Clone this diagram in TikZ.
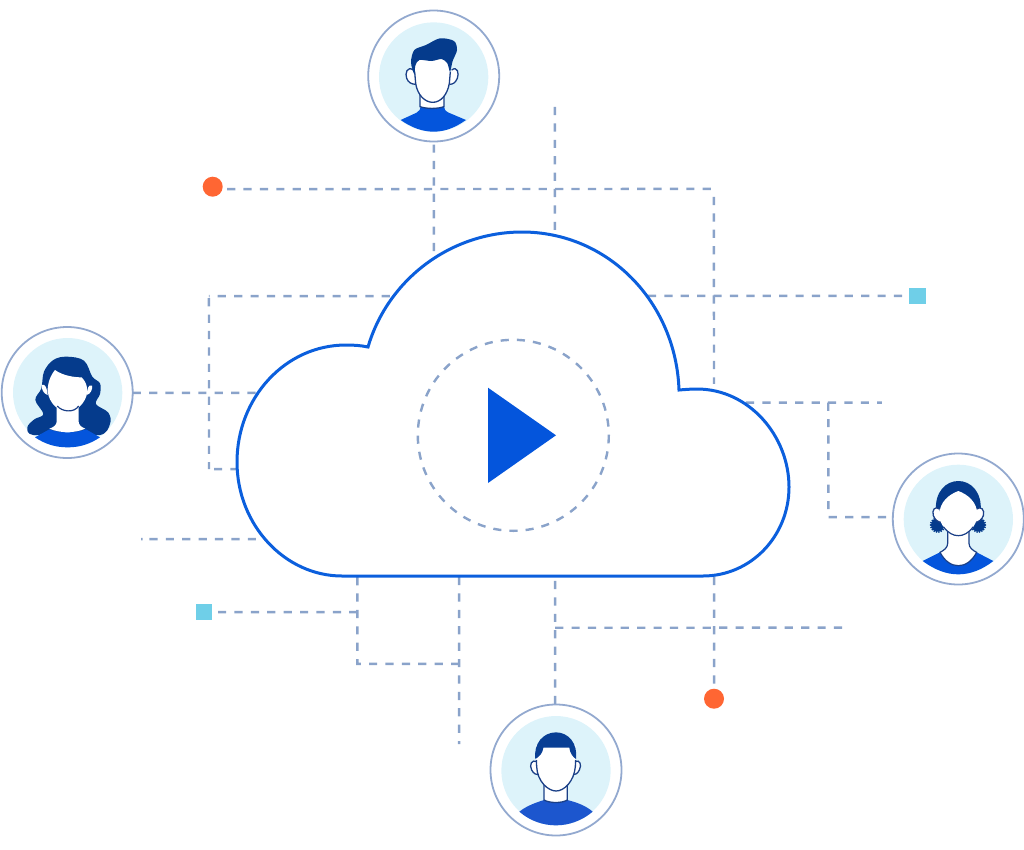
\documentclass[tikz,border=0pt]{standalone}
\definecolor{dashc}{HTML}{8AA3CA}
\definecolor{ringc}{HTML}{93A9CF}
\definecolor{cloudc}{HTML}{0B5FDD}
\definecolor{playc}{HTML}{0455DC}
\definecolor{lightc}{HTML}{DDF3FA}
\definecolor{hairc}{HTML}{053B8C}
\definecolor{linec}{HTML}{1A3F87}
\definecolor{bodyc}{HTML}{0455DC}
\definecolor{bodyd}{HTML}{1C56CE}
\definecolor{orangec}{HTML}{FF6633}
\definecolor{cyanc}{HTML}{6FCFE8}
\tikzset{
  dl/.style={draw=dashc,line width=2.4pt,dash pattern=on 8.2pt off 8.2pt},
  avatar/.style={circle,draw=ringc,line width=1.8pt,minimum size=131pt,inner sep=0pt,outer sep=0pt},
  orangedot/.style={circle,fill=orangec,minimum size=20pt,inner sep=0pt,outer sep=0pt},
  cyansq/.style={rectangle,fill=cyanc,minimum size=16.4pt,inner sep=0pt,outer sep=0pt},
  skin/.style={fill=white,draw=linec,line width=1.3pt},
  hair/.style={fill=hairc,draw=none},
  zoomed/.style={x=0.33333pt,y=-0.33333pt}
}
\begin{document}
\begin{tikzpicture}[x=1pt,y=-1pt]
\useasboundingbox (0,0) rectangle (1024,849);
% avatars and markers
\node[avatar] (a1) at (433.7,76) {};
\node[avatar] (a2) at (67.2,392.5) {};
\node[avatar] (a3) at (958.3,519) {};
\node[avatar] (a4) at (556,770) {};
\node[orangedot] (d1) at (212.7,186.7) {};
\node[orangedot] (d2) at (714,698.7) {};
\node[cyansq] (s1) at (917.5,296) {};
\node[cyansq] (s2) at (204.2,612.2) {};
% junction and free-end coordinates
\coordinate (t1) at (714,189);
\coordinate (e1) at (714,384);
\coordinate (e2) at (434,256);
\coordinate (f1) at (555,107);
\coordinate (e3) at (555,234);
\coordinate (e4) at (390,296);
\coordinate (k1) at (209,296);
\coordinate (k2) at (209,469);
\coordinate (e5) at (238,469);
\coordinate (e6) at (260,392.7);
\coordinate (f2) at (141,539);
\coordinate (e7) at (262,539);
\coordinate (e8) at (648,296);
\coordinate (e9) at (746,402.8);
\coordinate (f3) at (882,402.8);
\coordinate (k3) at (828.3,402.8);
\coordinate (k4) at (828.3,517.3);
\coordinate (k5) at (357.3,612);
\coordinate (k6) at (357.3,663.8);
\coordinate (k7) at (459,663.8);
\coordinate (e10) at (357.3,577);
\coordinate (e11) at (459,577);
\coordinate (f4) at (459,744);
\coordinate (e12) at (555,581);
\coordinate (k8) at (555,627.8);
\coordinate (f5) at (843,627.8);
\coordinate (e13) at (714,577);
% connectors (a tiny canvas rotation keeps stroke widths even)
\begin{scope}[transform canvas={rotate around={0.03:(512,424)}}]
\draw[dl] (d1.east) ++(4.5,2.3) -- (t1);
\draw[dl] (714,197) -- (e1);
\draw[dl] (e2 |- a1.south) ++(0,3) -- (e2);
\draw[dl] (f1) -- (e3);
\draw[dl] (e4) -- (k1);
\draw[dl] (209,298) -- (k2);
\draw[dl] (214,469) -- (e5);
\draw[dl] (a2.east |- e6) -- (e6);
\draw[dl,dash pattern=on 1.5pt off 6.8pt on 8.2pt off 8.2pt on 8.2pt off 8.2pt on 8.2pt off 8.2pt on 8.2pt off 8.2pt on 8.2pt off 8.2pt on 8.2pt off 8.2pt on 8.2pt off 8.2pt] (f2) -- (e7);
\draw[dl] (e8) -- (s1.west |- e8);
\draw[dl] (e9) -- (f3);
\draw[dl] (k3) -- (k4) -- (k4 -| a3.west);
\draw[dl] (s2.east) ++(5.5,-0.2) -- (k5);
\draw[dl] (e10) -- (k6) -- (k7);
\draw[dl] (e11) -- (f4);
\draw[dl] (e12) -- (e12 |- a4.north);
\draw[dl] (k8) -- (f5);
\draw[dl] (e13) -- (d2.north);
\end{scope}
% cloud
\path[fill=white,draw=cloudc,line width=3pt,line join=miter]
  (342,576) -- (703,576)
  .. controls (751,576) and (789,536) .. (789,487)
  .. controls (789,436) and (749,389) .. (697,389)
  .. controls (691,389) and (685,389.5) .. (679,390)
  .. controls (676,302) and (608,232) .. (522,232)
  .. controls (451,232) and (388,279) .. (368,347)
  .. controls (361,345.5) and (354,345) .. (346,345)
  .. controls (285,345) and (237,398) .. (237,462)
  .. controls (237,525) and (285,576) .. (342,576) -- cycle;
% play icon
\draw[draw=dashc,line width=2.4pt,dash pattern=on 8.1pt off 8.1pt] (513.3,435.3) circle[radius=95.5];
\fill[playc] (488,387.7) -- (556,435.3) -- (488,483) -- cycle;
% avatar 1
\begin{scope}[shift={(360,5)},zoomed]
  \fill[lightc] (221,216) circle[radius=164];
  \fill[bodyc] (122,345) -- (170,323) .. controls (178,318) and (182,312) .. (182,305) -- (252,305) .. controls (252,312) and (256,318) .. (266,323) -- (318,345) .. controls (285,368) and (255,380) .. (221,380) .. controls (187,380) and (155,368) .. (122,345) -- cycle;
  \path[skin] (180,265) -- (180,305) .. controls (200,312) and (232,312) .. (252,305) -- (252,265);
  \path[skin] (160,195) .. controls (142,182) and (134,205) .. (140,220) .. controls (145,233) and (155,238) .. (168,238);
  \path[skin] (275,195) .. controls (292,182) and (298,205) .. (292,220) .. controls (286,233) and (280,238) .. (268,238);
  \fill[white] (163,155) -- (163,200) -- (167,235) .. controls (172,270) and (195,292) .. (218,292) .. controls (242,292) and (262,270) .. (268,235) -- (274,155) -- cycle;
  \draw[linec,line width=1.3pt] (164,200) -- (167,235) .. controls (172,270) and (195,292) .. (218,292) .. controls (242,292) and (262,270) .. (268,235) -- (271,200);
  \path[hair] plot[smooth cycle,tension=0.5] coordinates {(163,208) (153,172) (163,135) (198,120) (240,100) (282,108) (291,135) (278,168) (270,200) (262,175) (245,162) (215,168) (178,165) (166,182)};
\end{scope}
% avatar 2
\begin{scope}[shift={(0,320)},zoomed]
  \fill[lightc] (203,218) circle[radius=164];
  \path[hair] plot[smooth cycle,tension=0.6] coordinates {(200,110) (252,122) (277,170) (300,190) (300,222) (288,252) (325,278) (330,312) (300,345) (200,335) (100,345) (82,322) (103,298) (130,282) (106,240) (124,205) (132,155) (160,120)};
  \fill[bodyc] (105,352) -- (148,328) .. controls (180,340) and (225,340) .. (258,328) -- (300,352) .. controls (270,372) and (240,382) .. (203,382) .. controls (166,382) and (135,372) .. (105,352) -- cycle;
  \fill[white] (170,262) -- (170,305) .. controls (170,315) and (160,322) .. (148,326) .. controls (180,340) and (225,340) .. (256,326) .. controls (245,322) and (236,315) .. (236,305) -- (236,262) -- cycle;
  \fill[white] (126,195) .. controls (135,190) and (142,205) .. (143,225) .. controls (132,222) and (123,208) .. (126,195) -- cycle;
  \fill[white] (276,197) .. controls (266,192) and (262,205) .. (260,225) .. controls (272,222) and (278,208) .. (276,197) -- cycle;
  \path[fill=white,draw=none] (165,150) .. controls (190,168) and (225,172) .. (245,172) .. controls (255,182) and (262,195) .. (262,215) .. controls (258,250) and (228,275) .. (203,275) .. controls (175,275) and (148,250) .. (143,215) .. controls (142,190) and (152,165) .. (165,150) -- cycle;
  \draw[linec,line width=1.2pt] (172,258) .. controls (185,275) and (222,280) .. (236,258);
\end{scope}
% avatar 3
\begin{scope}[shift={(880,445)},zoomed]
  \fill[lightc] (235,223) circle[radius=164];
  \fill[bodyc] (128,348) -- (180,322) .. controls (195,350) and (215,362) .. (235,362) .. controls (255,362) and (275,350) .. (290,322) -- (340,348) .. controls (305,375) and (270,388) .. (235,388) .. controls (200,388) and (165,375) .. (128,348) -- cycle;
  \path[fill=white,draw=linec,line width=1.2pt] (203,255) -- (203,295) .. controls (203,308) and (192,316) .. (180,322) .. controls (195,350) and (215,362) .. (235,362) .. controls (255,362) and (275,350) .. (290,322) .. controls (278,316) and (267,308) .. (267,295) -- (267,255);
  \path[hair] (168,200) .. controls (163,140) and (198,108) .. (235,108) .. controls (272,108) and (307,140) .. (302,200) -- cycle;
  \foreach \cx/\cy in {173/240,295/240}{
    \fill[hairc] (\cx,\cy) circle[radius=20];
    \foreach \a in {0,20,...,340}{ \fill[hairc] (\cx,\cy) ++(\a:21) circle[radius=3]; }
  }
  \path[skin] (178,192) .. controls (165,182) and (155,195) .. (160,212) .. controls (165,225) and (175,232) .. (185,232);
  \path[skin] (290,192) .. controls (303,182) and (315,195) .. (310,212) .. controls (305,225) and (295,232) .. (285,232);
  \path[fill=white,draw=none] (235,138) .. controls (262,148) and (292,170) .. (292,210) .. controls (290,245) and (262,272) .. (235,272) .. controls (208,272) and (180,245) .. (178,210) .. controls (178,170) and (208,148) .. (235,138) -- cycle;
  \draw[linec,line width=1.2pt] (190,245) .. controls (205,265) and (220,272) .. (235,272) .. controls (250,272) and (265,265) .. (280,245);
\end{scope}
% avatar 4
\begin{scope}[shift={(480,695)},zoomed]
  \fill[lightc] (228,227) circle[radius=164];
  \fill[bodyd] (118,350) .. controls (140,332) and (170,322) .. (192,315) .. controls (210,325) and (245,325) .. (262,315) .. controls (290,322) and (318,332) .. (338,350) .. controls (305,378) and (265,391) .. (228,391) .. controls (190,391) and (150,378) .. (118,350) -- cycle;
  \path[skin] (192,265) -- (192,315) .. controls (210,325) and (245,325) .. (262,315) -- (262,265);
  \path[skin] (170,200) .. controls (155,192) and (147,210) .. (155,225) .. controls (160,236) and (170,240) .. (178,240);
  \path[skin] (284,200) .. controls (300,192) and (306,210) .. (298,225) .. controls (293,236) and (285,240) .. (276,240);
  \fill[white] (168,150) -- (168,190) -- (170,215) .. controls (172,260) and (205,288) .. (228,288) .. controls (252,288) and (282,260) .. (286,215) -- (287,190) -- (287,150) -- cycle;
  \draw[linec,line width=1.3pt] (169,195) -- (170,215) .. controls (172,260) and (205,288) .. (228,288) .. controls (252,288) and (282,260) .. (286,215) -- (287,195);
  \path[fill=hairc!88!bodyd] (166,192) .. controls (160,145) and (190,112) .. (228,112) .. controls (265,112) and (294,145) .. (288,192) .. controls (278,185) and (270,175) .. (268,158) -- (190,158) .. controls (188,175) and (178,185) .. (166,192) -- cycle;
\end{scope}
\end{tikzpicture}
\end{document}
